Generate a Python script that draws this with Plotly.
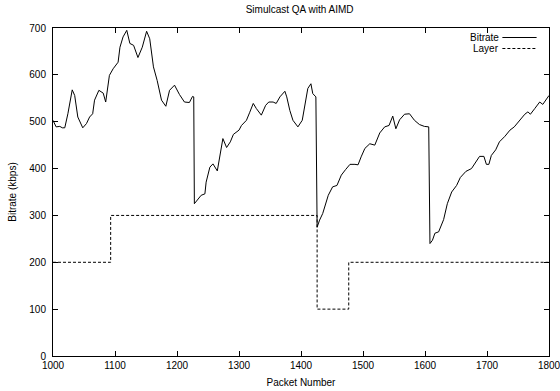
import plotly.graph_objects as go

# Bitrate series (packet number, kbps)
packets = [1000, 1005, 1011, 1015, 1019, 1024, 1031, 1035, 1040, 1048, 1054, 1059, 1064, 1067,
           1074, 1081, 1085, 1091, 1097, 1105, 1108, 1113, 1119, 1124, 1130, 1137, 1144, 1151,
           1156, 1162, 1168, 1175, 1182, 1188, 1196, 1204, 1212, 1220, 1225, 1227,
           1228, 1234, 1239, 1245, 1247, 1253, 1258, 1265, 1269, 1274, 1280, 1286, 1291, 1300,
           1304, 1312, 1317, 1323, 1328, 1336, 1343, 1348, 1355, 1360, 1366, 1374, 1377, 1382,
           1387, 1395, 1402, 1406, 1411, 1416, 1419, 1424,
           1426, 1430, 1435, 1444, 1451, 1458, 1465, 1472, 1479, 1487, 1492, 1497, 1503, 1511,
           1519, 1527, 1535, 1542, 1548, 1553, 1559, 1567, 1575, 1583, 1591, 1599, 1606,
           1608, 1612, 1616, 1622, 1630, 1636, 1643, 1651, 1657, 1666, 1675, 1682, 1688, 1695,
           1699, 1703, 1707, 1714, 1720, 1729, 1737, 1744, 1753, 1761, 1766, 1770, 1777, 1785,
           1790, 1798, 1800]
bitrate = [503, 489, 490, 487, 487, 517, 568, 556, 510, 487, 496, 510, 517, 546,
           567, 561, 542, 599, 613, 627, 659, 681, 695, 667, 663, 637, 659, 693,
           677, 617, 588, 546, 533, 567, 578, 558, 542, 541, 554, 553,
           325, 334, 343, 346, 371, 403, 410, 395, 428, 464, 445, 457, 473, 482,
           492, 503, 519, 539, 528, 514, 535, 542, 542, 539, 553, 565, 553, 524,
           503, 489, 503, 535, 571, 581, 560, 553,
           275, 290, 304, 343, 361, 364, 386, 398, 409, 409, 408, 425, 443, 453,
           450, 476, 489, 492, 512, 485, 504, 516, 517, 503, 494, 490, 489,
           240, 247, 262, 265, 291, 325, 350, 364, 381, 394, 400, 414, 426, 426,
           409, 409, 428, 440, 457, 469, 482, 489, 504, 516, 521, 516, 528, 542,
           537, 554, 556]

# Layer series (step function)
layer_packets = [1000, 1093, 1426, 1477, 1800]
layer_values = [200, 300, 100, 200, 200]

x_ticks = [1000, 1100, 1200, 1300, 1400, 1500, 1600, 1700, 1800]
y_ticks = [0, 100, 200, 300, 400, 500, 600, 700]

FONT = "Liberation Sans, Arial, sans-serif"

fig = go.Figure()
fig.add_trace(go.Scatter(x=packets, y=bitrate, mode="lines", name="Bitrate",
                         line=dict(color="black", width=1), showlegend=False))
fig.add_trace(go.Scatter(x=layer_packets, y=layer_values, mode="lines", name="Layer",
                         line=dict(color="black", width=1, dash="3px,2px", shape="hv"),
                         showlegend=False))

axis_common = dict(showgrid=False, zeroline=False, showline=True, linecolor="black",
                   linewidth=1, mirror="allticks", ticks="inside", ticklen=5,
                   tickcolor="black", tickwidth=1, ticklabeloverflow="allow",
                   automargin=False,
                   tickfont=dict(family=FONT, size=10, color="black"))

fig.update_layout(
    width=560, height=391,
    margin=dict(l=53, r=11, t=28, b=35),
    paper_bgcolor="white", plot_bgcolor="white",
    title=dict(text="Simulcast QA with AIMD", x=0.535, xanchor="center", y=0.985, yanchor="top",
               font=dict(family=FONT, size=10, color="black")),
    xaxis=dict(range=[1000, 1800], tickvals=x_ticks,
               title=dict(text="Packet Number", font=dict(family=FONT, size=10, color="black"),
                          standoff=8),
               **axis_common),
    yaxis=dict(range=[0, 700], tickvals=y_ticks, ticklabelstandoff=4,
               title=dict(text="Bitrate (kbps)", font=dict(family=FONT, size=10, color="black"),
                          standoff=10),
               **axis_common),
    showlegend=False,
)

# gnuplot-style key: text right-aligned, sample to the right
key_items = [("Bitrate", "solid", 0.971), ("Layer", "3px,2px", 0.9375)]
for label, dash, ypos in key_items:
    fig.add_annotation(xref="paper", yref="paper", x=0.899, y=ypos, text=label,
                       showarrow=False, xanchor="right", yanchor="middle",
                       xshift=2, font=dict(family=FONT, size=10, color="black"))
    fig.add_shape(type="line", xref="paper", yref="paper", x0=0.906, x1=0.975,
                  y0=ypos, y1=ypos, line=dict(color="black", width=1, dash=dash))

fig.write_html("out.html")
